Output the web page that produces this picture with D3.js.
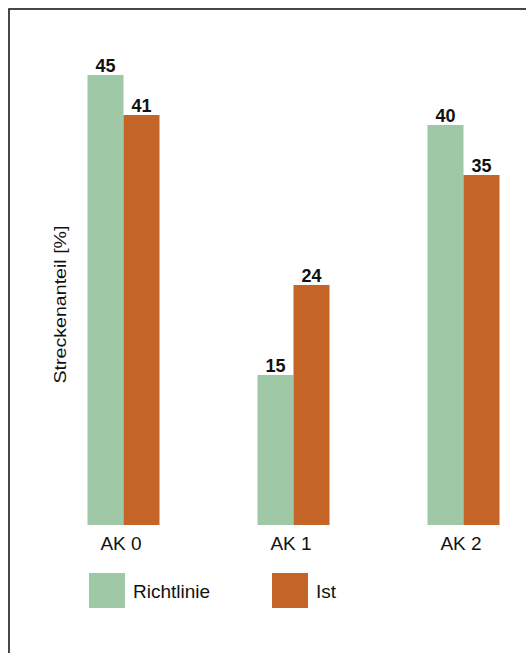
<!DOCTYPE html>
<html>
<head>
<meta charset="utf-8">
<script src="https://cdn.jsdelivr.net/npm/d3@7"></script>
<style>
html,body{margin:0;padding:0;background:#fff;}
svg{display:block;}
text{font-family:"Liberation Sans",Arial,Helvetica,sans-serif;fill:#111;}
</style>
</head>
<body>
<script>
const categories = ["AK 0", "AK 1", "AK 2"];
const seriesNames = ["Richtlinie", "Ist"];
const richtlinie = [45, 15, 40];
const ist = [41, 24, 35];
const colors = ["#9fc8a6", "#c46427"];
const yLabel = "Streckenanteil [%]";

const W = 526, H = 653;
const svg = d3.select("body").append("svg").attr("width", W).attr("height", H);

// frame (extends past right/bottom edge like the reference)
svg.append("rect").attr("x", 9).attr("y", 9).attr("width", 700).attr("height", 800)
  .attr("fill", "none").attr("stroke", "#1a1a1a").attr("stroke-width", 1.6);

const y = d3.scaleLinear().domain([0, 45]).range([525, 75]);
const x0 = d3.scalePoint().domain(categories).range([123.5, 463.5]);
const x1 = d3.scaleBand().domain(seriesNames).range([-36, 36]);

const data = categories.map((c, i) => ({cat: c, values: [richtlinie[i], ist[i]]}));

const groups = svg.selectAll("g.grp").data(data).join("g")
  .attr("class", "grp")
  .attr("transform", d => `translate(${x0(d.cat)},0)`);

groups.selectAll("rect").data(d => d.values.map((v, j) => ({s: seriesNames[j], v, j})))
  .join("rect")
  .attr("x", d => x1(d.s))
  .attr("width", x1.bandwidth())
  .attr("y", d => y(d.v))
  .attr("height", d => y(0) - y(d.v))
  .attr("fill", d => colors[d.j]);

groups.selectAll("text.val").data(d => d.values.map((v, j) => ({s: seriesNames[j], v, j})))
  .join("text")
  .attr("class", "val")
  .attr("x", d => x1(d.s) + x1.bandwidth() / 2)
  .attr("y", d => y(d.v) - 3)
  .attr("text-anchor", "middle")
  .attr("font-size", 18)
  .attr("font-weight", "bold")
  .text(d => d.v);

// category axis labels
const xAxis = d3.axisBottom(x0).tickSize(0).tickPadding(0);
const ax = svg.append("g").attr("transform", "translate(-3,536)").call(xAxis);
ax.select(".domain").remove();
ax.selectAll("text").attr("font-size", 19).attr("fill", "#111")
  .attr("font-family", "Liberation Sans, Arial, sans-serif").attr("dy", "0.71em");

// y label
svg.append("text")
  .attr("transform", "translate(66,304.5) rotate(-90)")
  .attr("text-anchor", "middle")
  .attr("font-size", 17)
  .attr("textLength", 158)
  .attr("lengthAdjust", "spacingAndGlyphs")
  .text(yLabel);

// legend
const legendX = [89, 272];
const lg = svg.selectAll("g.leg").data(seriesNames).join("g")
  .attr("class", "leg")
  .attr("transform", (d, i) => `translate(${legendX[i]},573)`);
lg.append("rect").attr("width", 36).attr("height", 35).attr("fill", (d, i) => colors[i]);
lg.append("text").attr("x", 44).attr("y", 25).attr("font-size", 19).text(d => d);
</script>
</body>
</html>
